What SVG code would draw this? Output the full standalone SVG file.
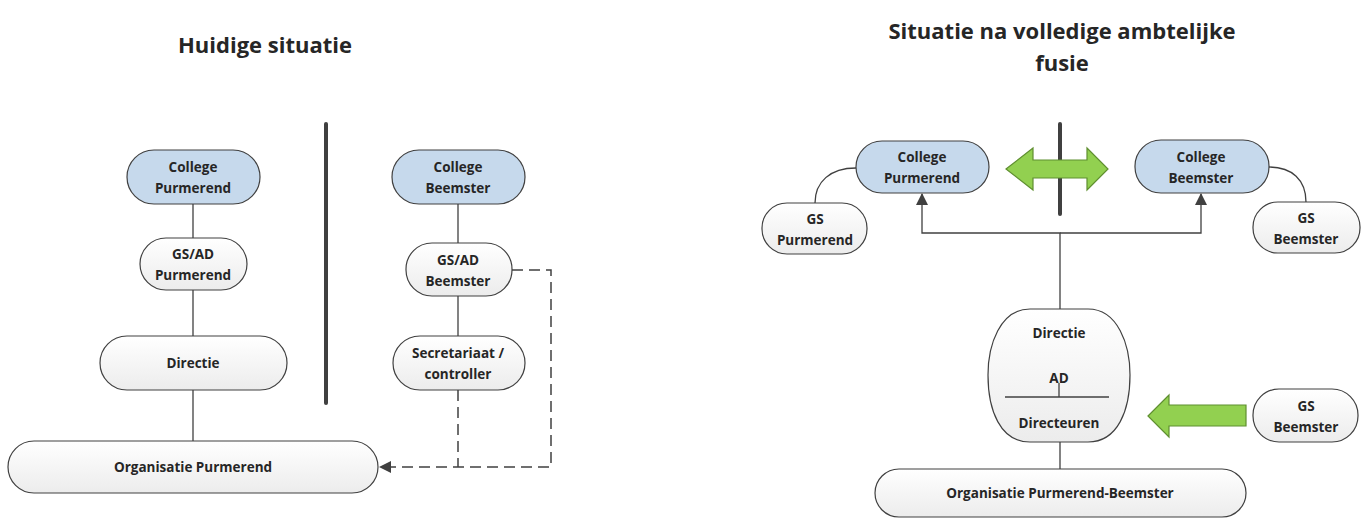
<svg xmlns="http://www.w3.org/2000/svg" width="1369" height="518" viewBox="0 0 1369 518">
<defs>
<linearGradient id="wg" x1="0" y1="0" x2="0" y2="1"><stop offset="0" stop-color="#ffffff"/><stop offset="1" stop-color="#ececec"/></linearGradient>
<marker id="ah" viewBox="0 0 12 12" refX="11" refY="6" markerWidth="12" markerHeight="12" markerUnits="userSpaceOnUse" orient="auto"><path d="M0,0 L12,6 L0,12 z" fill="#404040"/></marker>
<style>
.t{font-family:"Open Sans","Liberation Sans",Arial,sans-serif;font-weight:bold;font-size:13.5px;fill:#262626;text-anchor:middle}
.h{font-family:"Open Sans","Liberation Sans",Arial,sans-serif;font-weight:bold;font-size:22px;fill:#262626;text-anchor:middle}
.blue{fill:#c6d9ec;stroke:#404040;stroke-width:1.2}
.wht{fill:url(#wg);stroke:#404040;stroke-width:1.2}
.ln{stroke:#404040;stroke-width:1.3;fill:none}
.dash{stroke:#404040;stroke-width:1.5;fill:none;stroke-dasharray:11,6}
.bar{stroke:#404040;stroke-width:4;stroke-linecap:round}
.grn{fill:#92d050;stroke:#5f8f30;stroke-width:1.2}
</style>
</defs>
<rect width="1369" height="518" fill="#ffffff"/>
<text class="h" x="265" y="53">Huidige situatie</text>
<text class="h" x="1062" y="39">Situatie na volledige ambtelijke</text>
<text class="h" x="1062" y="71">fusie</text>

<g id="connectors">
<line class="ln" x1="193" y1="204" x2="193" y2="238"/>
<line class="ln" x1="193" y1="290" x2="193" y2="336"/>
<line class="ln" x1="193" y1="390" x2="193" y2="441"/>
<line class="ln" x1="458" y1="204" x2="458" y2="243"/>
<line class="ln" x1="458" y1="296" x2="458" y2="336"/>
<path class="dash" d="M512,270 H551 V467 H380" marker-end="url(#ah)"/>
<path class="dash" d="M458,390 V467"/>
<path class="ln" d="M815,203 C815,182 830,168 856,168"/>
<path class="ln" d="M1269,167 C1292,167 1306,180 1306,202"/>
<path class="ln" d="M1060,309 V233 H922 V194" marker-end="url(#ah)"/>
<path class="ln" d="M1060,233 H1201 V194" marker-end="url(#ah)"/>
<line class="ln" x1="1060" y1="442" x2="1060" y2="469"/>
</g>

<line class="bar" x1="326" y1="124" x2="326" y2="403"/>

<g id="college-purmerend-l"><rect class="blue" x="127" y="150" width="133" height="54" rx="27"/><text class="t" x="193" y="172">College</text><text class="t" x="193" y="193">Purmerend</text></g>
<g id="gsad-purmerend"><rect class="wht" x="140" y="238" width="107" height="52" rx="26"/><text class="t" x="193" y="259">GS/AD</text><text class="t" x="193" y="280">Purmerend</text></g>
<g id="directie-l"><rect class="wht" x="100" y="336" width="187" height="54" rx="27"/><text class="t" x="193" y="368">Directie</text></g>
<g id="org-purmerend"><rect class="wht" x="8" y="441" width="370" height="52" rx="26"/><text class="t" x="193" y="472">Organisatie Purmerend</text></g>
<g id="college-beemster-l"><rect class="blue" x="392" y="150" width="133" height="54" rx="27"/><text class="t" x="458" y="172">College</text><text class="t" x="458" y="193">Beemster</text></g>
<g id="gsad-beemster"><rect class="wht" x="406" y="243" width="106" height="53" rx="26"/><text class="t" x="458" y="265">GS/AD</text><text class="t" x="458" y="286">Beemster</text></g>
<g id="secretariaat"><rect class="wht" x="393" y="336" width="132" height="54" rx="27"/><text class="t" x="458" y="358">Secretariaat /</text><text class="t" x="458" y="379">controller</text></g>

<line class="bar" x1="1060" y1="124" x2="1060" y2="214"/>
<g id="double-arrow"><path class="grn" d="M1006,169 L1033,148 V160 H1087 V148 L1108,169 L1087,190 V178 H1033 V190 Z"/></g>

<g id="college-purmerend-r"><rect class="blue" x="856" y="141" width="133" height="52" rx="26"/><text class="t" x="922" y="162">College</text><text class="t" x="922" y="183">Purmerend</text></g>
<g id="gs-purmerend"><rect class="wht" x="762" y="203" width="105" height="51" rx="25"/><text class="t" x="815" y="224">GS</text><text class="t" x="815" y="245">Purmerend</text></g>
<g id="college-beemster-r"><rect class="blue" x="1135" y="140" width="134" height="53" rx="26"/><text class="t" x="1201" y="162">College</text><text class="t" x="1201" y="183">Beemster</text></g>
<g id="gs-beemster-top"><rect class="wht" x="1253" y="202" width="107" height="51" rx="25"/><text class="t" x="1306" y="223">GS</text><text class="t" x="1306" y="244">Beemster</text></g>

<g id="directie-ad"><path class="wht" d="M1030,309 H1088 C1118,309 1130,345 1130,375 C1130,410 1118,442 1088,442 H1030 C1000,442 988,410 988,375 C988,345 1000,309 1030,309 Z"/>
<line class="ln" x1="1005" y1="397" x2="1109" y2="397"/><line class="ln" x1="1059" y1="383" x2="1059" y2="397"/>
<text class="t" x="1059" y="338">Directie</text><text class="t" x="1059" y="383">AD</text><text class="t" x="1059" y="428">Directeuren</text></g>

<g id="left-arrow"><path class="grn" d="M1148,416 L1169,395 V405 H1246 V426 H1169 V437 Z"/></g>
<g id="gs-beemster-low"><rect class="wht" x="1253" y="389" width="105" height="53" rx="26"/><text class="t" x="1306" y="411">GS</text><text class="t" x="1306" y="432">Beemster</text></g>
<g id="org-pb"><rect class="wht" x="875" y="469" width="371" height="48" rx="24"/><text class="t" x="1060" y="498">Organisatie Purmerend-Beemster</text></g>
</svg>
